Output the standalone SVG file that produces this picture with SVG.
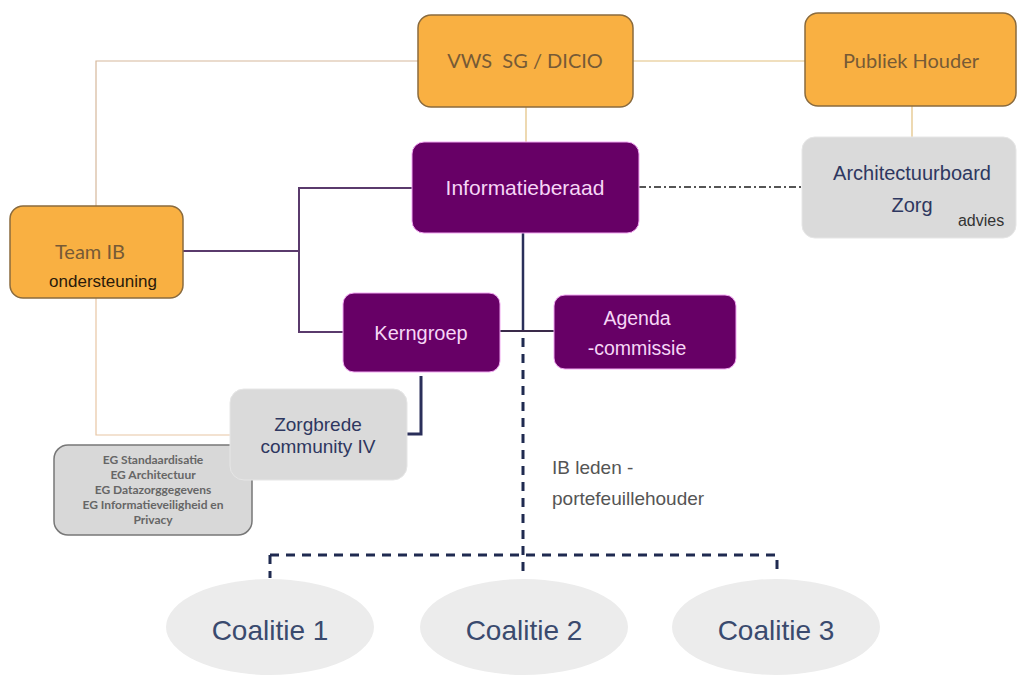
<svg xmlns="http://www.w3.org/2000/svg" width="1019" height="675" viewBox="0 0 1019 675">
<style>
.orange{fill:#f9b042;stroke:#8a6b3e;stroke-width:1.5}
.purple{fill:#670066;stroke:#f2a8f2;stroke-width:1}
.grey{fill:#dadada;stroke:#e6e6e6;stroke-width:1}
.eg{fill:#d8d8d8;stroke:#777777;stroke-width:1.5}
.coal{fill:#ececec}
.ot{font-family:Lato,"Open Sans",sans-serif;font-size:20px;fill:#765a36;text-anchor:middle;white-space:pre}
.pt{font-family:"Liberation Sans",Arial,sans-serif;font-size:20px;fill:#f6d6f6;text-anchor:middle}
.gt{font-family:"Liberation Sans",Arial,sans-serif;font-size:19px;fill:#2e3760;text-anchor:middle}
.egt{font-family:Lato,"Open Sans",sans-serif;font-size:12px;font-weight:bold;fill:#666666;text-anchor:middle}
.ct{font-family:"Liberation Sans",Arial,sans-serif;font-size:28px;fill:#3a4a6e;text-anchor:middle}
.lbl{font-family:"Liberation Sans",Arial,sans-serif;font-size:19px;fill:#555555}
.tan{fill:none;stroke:#d6b89c;stroke-width:1.2}
.gold{fill:none;stroke:#e2c07e;stroke-width:1.2}
.plum{fill:none;stroke:#5a3a6c;stroke-width:2}
.navy{fill:none;stroke:#2a2f5a;stroke-width:2.5}
.dash{fill:none;stroke:#1f2a50;stroke-width:3;stroke-dasharray:9 7}
.dd{fill:none;stroke:#555555;stroke-width:2;stroke-dasharray:7 3 2 3}
</style>
<rect width="1019" height="675" fill="#ffffff"/>
<g id="connectors">
  <polyline class="tan" points="418,61 96,61 96,206"/>
  <line class="gold" x1="633" y1="61" x2="805" y2="61"/>
  <line class="gold" x1="526" y1="107" x2="526" y2="142"/>
  <line class="gold" x1="912" y1="106" x2="912" y2="137"/>
  <line class="dd" x1="639" y1="187" x2="802" y2="187"/>
  <polyline class="plum" points="412,188 299,188 299,332 343,332"/>
  <line class="plum" x1="183" y1="251" x2="299" y2="251"/>
  <line class="navy" x1="523" y1="233" x2="523" y2="331"/>
  <line class="plum" x1="500" y1="331" x2="554" y2="331" style="stroke:#3a2a4a"/>
  <line class="dash" x1="523" y1="338" x2="523" y2="578"/>
  <line class="dash" x1="270" y1="555" x2="777" y2="555"/>
  <line class="dash" x1="270" y1="555" x2="270" y2="578"/>
  <line class="dash" x1="777" y1="560" x2="777" y2="570"/>
  <polyline class="navy" points="421,376 421,434 407,434" style="stroke-width:3"/>
  <polyline class="tan" points="96,298 96,435 230,435" style="stroke:#e8c6a4"/>
</g>
<g id="vws">
  <rect class="orange" x="418" y="15" width="215" height="92" rx="13"/>
  <text class="ot" x="525" y="68" xml:space="preserve">VWS  SG / DICIO</text>
</g>
<g id="publiek-houder">
  <rect class="orange" x="805" y="13" width="211" height="93" rx="13"/>
  <text class="ot" x="911" y="68">Publiek Houder</text>
</g>
<g id="team-ib">
  <rect class="orange" x="10" y="206" width="173" height="92" rx="13"/>
  <text class="ot" x="90" y="259">Team IB</text>
  <text x="103" y="287" style="font-family:'Liberation Sans',Arial,sans-serif;font-size:17px;fill:#2a1a0a;text-anchor:middle">ondersteuning</text>
</g>
<g id="informatieberaad">
  <rect class="purple" x="412" y="142" width="227" height="91" rx="12"/>
  <text class="pt" x="525" y="195" style="font-size:21px">Informatieberaad</text>
</g>
<g id="architectuurboard">
  <rect class="grey" x="802" y="137" width="214" height="101" rx="13"/>
  <text class="gt" x="912" y="180" style="font-size:20px">Architectuurboard</text>
  <text class="gt" x="912" y="212" style="font-size:20px">Zorg</text>
  <text x="981" y="226" style="font-family:'Liberation Sans',Arial,sans-serif;font-size:16px;fill:#333333;text-anchor:middle">advies</text>
</g>
<g id="kerngroep">
  <rect class="purple" x="343" y="293" width="157" height="79" rx="11"/>
  <text class="pt" x="421" y="340">Kerngroep</text>
</g>
<g id="agenda-commissie">
  <rect class="purple" x="554" y="295" width="182" height="74" rx="11"/>
  <text class="pt" x="637" y="325" style="font-size:19.5px">Agenda</text>
  <text class="pt" x="637" y="355" style="font-size:19.5px">-commissie</text>
</g>
<g id="eg">
  <rect class="eg" x="54" y="445" width="198" height="90" rx="14"/>
  <text class="egt" x="153" y="464">EG Standaardisatie</text>
  <text class="egt" x="153" y="479">EG Architectuur</text>
  <text class="egt" x="153" y="494">EG Datazorggegevens</text>
  <text class="egt" x="153" y="509">EG Informatieveiligheid en</text>
  <text class="egt" x="153" y="524">Privacy</text>
</g>
<g id="zorgbrede">
  <rect class="grey" x="230" y="389" width="177" height="91" rx="14"/>
  <text class="gt" x="318" y="431">Zorgbrede</text>
  <text class="gt" x="318" y="453">community IV</text>
</g>
<g id="ib-leden-label">
  <text class="lbl" x="552" y="474">IB leden -</text>
  <text class="lbl" x="552" y="505">portefeuillehouder</text>
</g>
<g id="coalitie-1">
  <ellipse class="coal" cx="270" cy="627" rx="104" ry="48"/>
  <text class="ct" x="270" y="640">Coalitie 1</text>
</g>
<g id="coalitie-2">
  <ellipse class="coal" cx="524" cy="627" rx="104" ry="48"/>
  <text class="ct" x="524" y="640">Coalitie 2</text>
</g>
<g id="coalitie-3">
  <ellipse class="coal" cx="776" cy="627" rx="104" ry="48"/>
  <text class="ct" x="776" y="640">Coalitie 3</text>
</g>
</svg>
